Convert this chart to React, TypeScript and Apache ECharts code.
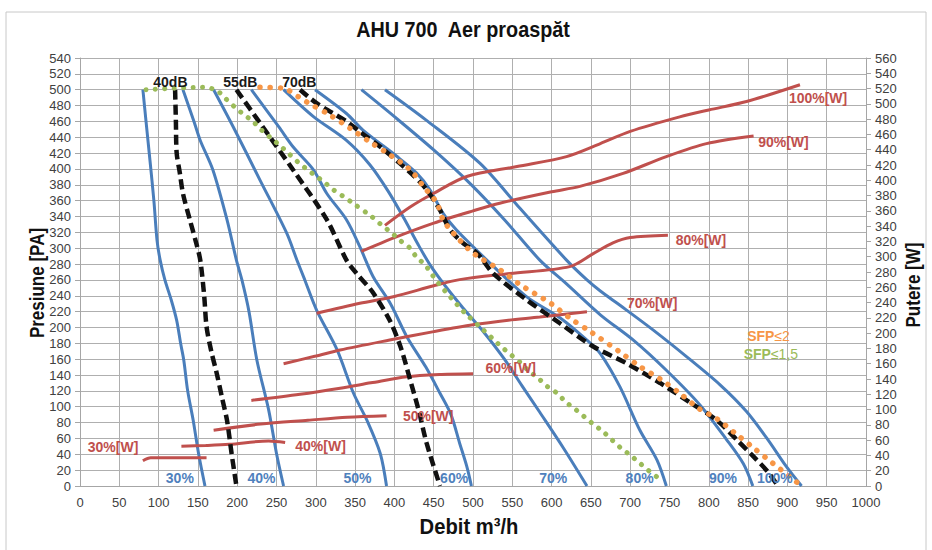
import React, { useEffect, useRef } from "react";
import * as echarts from "echarts";

// ---- Fan speed curves (Pa vs m3/h) ----
const speed30 = [[80,500],[84,460],[89,411],[94,360],[98,310],[102,285],[108,260],[116,235],[123,209],[128,180],[132,159],[137,120],[144,83],[151,40],[159,0]];
const speed40 = [[131,500],[145,460],[153,436],[169,399],[187,336],[199,285],[206,260],[215,220],[225,159],[240,96],[250,41],[259,0]];
const speed50 = [[170,500],[195,453],[229,386],[263,319],[276,285],[286,260],[301,222],[327,172],[348,117],[365,83],[382,41],[390,0]];
const speed60 = [[218,500],[253,453],[271,428],[297,399],[314,369],[339,336],[356,302],[373,264],[395,230],[416,188],[440,150],[458,117],[472,90],[483,54],[492,25],[498,0]];
const speed70 = [[259,500],[297,466],[339,436],[369,405],[392,372],[412,338],[430,305],[446,278],[465,252],[487,225],[513,195],[540,160],[562,127],[585,93],[615,48],[645,0]];
const speed80 = [[299,500],[339,470],[360,449],[403,416],[428,395],[445,374],[462,344],[479,323],[496,306],[526,277],[568,239],[611,212],[645,184],[662,167],[687,125],[712,71],[734,33],[746,0]];
const speed90 = [[358,500],[400,466],[450,424],[498,380],[540,336],[585,285],[619,255],[662,216],[704,184],[746,146],[789,102],[823,58],[844,28],[856,0]];
const speed100 = [[388,500],[440,462],[509,407],[560,350],[619,285],[645,260],[662,246],[687,228],[729,197],[772,163],[814,128],[848,94],[874,60],[899,24],[918,0]];

// ---- Sound level curves (Pa vs m3/h) ----
const db40 = [[121,500],[122,460],[123,420],[127,395],[131,369],[140,335],[148,306],[153,285],[158,240],[161,201],[167,170],[174,142],[181,110],[187,83],[193,40],[199,0]];
const db55 = [[199,500],[229,458],[271,399],[314,336],[339,285],[352,268],[372,245],[394,209],[408,175],[420,134],[431,95],[441,54],[458,0]];
const db70 = [[280,500],[301,483],[339,460],[356,447],[382,428],[407,407],[424,392],[441,374],[458,348],[471,323],[488,306],[505,294],[526,268],[568,235],[611,205],[653,176],[695,155],[738,130],[772,108],[810,83],[836,58],[857,37],[875,18],[888,0]];

// ---- SFP limit curves (Pa vs m3/h) ----
const sfp2 = [[229,503],[258,502],[278,491],[291,483],[318,468],[344,451],[369,434],[394,418],[420,399],[437,378],[454,357],[462,336],[475,319],[500,294],[534,273],[560,254],[598,231],[623,212],[649,195],[687,169],[712,151],[738,135],[763,117],[787,98],[810,85],[833,67],[857,48],[881,29],[918,0]];
const sfp15 = [[84,500],[157,503],[174,499],[185,489],[197,478],[208,469],[220,460],[231,449],[243,439],[255,429],[266,419],[277,409],[288,400],[299,392],[310,384],[322,374],[334,366],[347,357],[371,340],[384,329],[397,319],[407,310],[420,300],[428,289],[439,279],[447,268],[456,256],[467,243],[477,232],[488,220],[513,197],[526,185],[537,175],[549,165],[560,156],[570,146],[583,136],[594,126],[607,117],[618,106],[630,97],[642,87],[653,78],[665,69],[677,58],[688,48],[700,39],[712,29],[724,19],[736,10]];

// ---- Power curves (W vs m3/h) ----
const power30 = [[80,33],[90,37],[120,37],[161,37]];
const power40 = [[129,52],[160,53],[190,54.5],[240,59],[261,57]];
const power50 = [[170,73],[230,81],[290,86],[340,90],[390,92]];
const power60 = [[218,112],[280,120],[331,128],[370,135],[416,143],[460,146],[500,147]];
const power70 = [[259,160],[300,170],[331,178],[394,191],[450,202],[500,211],[545,217],[585,221],[645,228]];
const power80 = [[301,226],[356,239],[400,248],[450,262],[483,270],[547,278],[623,287],[653,304],[678,318],[700,325],[748,328]];
const power90 = [[358,307],[400,325],[450,344],[500,360],[534,370],[600,385],[636,392],[691,409],[746,431],[797,448],[857,458]];
const power100 = [[388,341],[420,365],[450,383],[492,405],[556,418],[619,431],[662,448],[700,464],[763,483],[800,492],[848,503],[916,525]];

// ---- Text labels (placed in flow / pressure coordinates) ----
const speedLabels: [string, number, number][] = [["30%",127,9.5],["40%",231,9.5],["50%",353,9.5],["60%",476,9.5],["70%",602,9.5],["80%",712,9.5],["90%",818,9.5],["100%",884,9.5]];
const dbLabels: [string, number, number][] = [["40dB",115,510],["55dB",204,510],["70dB",279,510]];
const powerLabels: [string, number, number][] = [["30%[W]",42,48.6],["40%[W]",306,50.5],["50%[W]",443,88],["60%[W]",548,148.5],["70%[W]",728,231],["80%[W]",790,310],["90%[W]",895,434],["100%[W]",939,489]];
const sfpLabels: [string, string, number, number, string][] = [["SFP","≤2",876,189.5,"#F79646"],["SFP","≤1,5",879,167,"#9BBB59"]];

const BLUE = "#4A7EBB";
const RED = "#C0504D";
const SANS = "'Liberation Sans', Arial, sans-serif";

export default function App() {
  const ref = useRef<HTMLDivElement>(null);
  useEffect(() => {
    if (!ref.current) return;
    const chart = echarts.init(ref.current, null, { renderer: "svg" });

    const line = (name: string, data: number[][], style: any, yAxisIndex = 0, z = 2) => ({
      name, type: "line", data, yAxisIndex, smooth: 0.3, showSymbol: false, symbol: "none", silent: true, z,
      lineStyle: style,
    });

    const blueStyle = { color: BLUE, width: 3 };
    const redStyle = { color: RED, width: 3 };
    const dashStyle = { color: "#111", width: 4.5, type: [10, 5] };

    const titleStyle = { fill: "#111", font: "bold 22px " + SANS, textAlign: "center", textVerticalAlign: "middle" };

    const option: any = {
      animation: false,
      backgroundColor: "#fff",
      grid: { left: 80, right: 66, top: 58, bottom: 64 },
      xAxis: {
        type: "value", min: 0, max: 1000, interval: 50,
        axisLine: { show: true, lineStyle: { color: "#A6A6A6", width: 1 } },
        axisTick: { show: false },
        axisLabel: { fontSize: 13, color: "#404040", margin: 10, fontFamily: SANS, formatter: (v: number) => String(v) },
        splitLine: { show: true, lineStyle: { color: "#AFAFAF", width: 1 } },
      },
      yAxis: [
        {
          type: "value", min: 0, max: 540, interval: 20, position: "left",
          axisLine: { show: true, lineStyle: { color: "#A6A6A6", width: 1 } },
          axisTick: { show: true, length: 5, lineStyle: { color: "#A6A6A6" } },
          axisLabel: { fontSize: 13, color: "#404040", margin: 9, fontFamily: SANS, formatter: (v: number) => String(v) },
          splitLine: { show: true, lineStyle: { color: "#AFAFAF", width: 1 } },
        },
        {
          type: "value", min: 0, max: 560, interval: 20, position: "right",
          axisLine: { show: true, lineStyle: { color: "#A6A6A6", width: 1 } },
          axisTick: { show: true, length: 5, lineStyle: { color: "#A6A6A6" } },
          axisLabel: { fontSize: 13, color: "#404040", margin: 9, fontFamily: SANS, formatter: (v: number) => String(v) },
          splitLine: { show: false },
        },
      ],
      series: [
        line("30%", speed30, blueStyle),
        line("40%", speed40, blueStyle),
        line("50%", speed50, blueStyle),
        line("60%", speed60, blueStyle),
        line("70%", speed70, blueStyle),
        line("80%", speed80, blueStyle),
        line("90%", speed90, blueStyle),
        line("100%", speed100, blueStyle),
        line("P30", power30, redStyle, 1, 3),
        line("P40", power40, redStyle, 1, 3),
        line("P50", power50, redStyle, 1, 3),
        line("P60", power60, redStyle, 1, 3),
        line("P70", power70, redStyle, 1, 3),
        line("P80", power80, redStyle, 1, 3),
        line("P90", power90, redStyle, 1, 3),
        line("P100", power100, redStyle, 1, 3),
        line("40dB", db40, dashStyle, 0, 4),
        line("55dB", db55, dashStyle, 0, 4),
        line("70dB", db70, dashStyle, 0, 4),
        line("SFP2", sfp2, { color: "#F79646", width: 5.5, type: [0.1, 10], cap: "round" }, 0, 5),
        line("SFP15", sfp15, { color: "#9BBB59", width: 5, type: [0.1, 9.3], cap: "round" }, 0, 5),
      ],
    };
    chart.setOption(option);

    // place text labels via the chart's own axis scales
    const px = (x: number, y: number) => chart.convertToPixel({ xAxisIndex: 0, yAxisIndex: 0 }, [x, y]) as number[];
    const lbl = (text: string, x: number, y: number, color: string) => {
      const [X, Y] = px(x, y);
      return { type: "text", x: X, y: Y, z: 100, silent: true,
        style: { text, fill: color, font: "bold 14px " + SANS, textAlign: "center", textVerticalAlign: "middle" } };
    };
    const graphics: any[] = [
      { type: "rect", shape: { x: 6, y: 12, width: 920, height: 560 }, style: { fill: "none", stroke: "#C8C8C8", lineWidth: 1 }, silent: true, z: -10 },
      { type: "text", x: 463, y: 29, scaleX: 0.9, style: { ...titleStyle, text: "AHU 700  Aer proaspăt" }, silent: true },
      { type: "text", x: 37, y: 283, rotation: Math.PI / 2, scaleX: 0.85, style: { ...titleStyle, font: "bold 20px " + SANS, text: "Presiune [PA]" }, silent: true },
      { type: "text", x: 913, y: 285, rotation: Math.PI / 2, scaleX: 0.85, style: { ...titleStyle, font: "bold 20px " + SANS, text: "Putere [W]" }, silent: true },
      { type: "text", x: 469, y: 526, scaleX: 0.92, style: { ...titleStyle, text: "Debit m³/h" }, silent: true },
      ...speedLabels.map(([n, x, y]) => lbl(n, x, y, "#4F81BD")),
      ...dbLabels.map(([n, x, y]) => lbl(n, x, y, "#1a1a1a")),
      ...powerLabels.map(([n, x, y]) => lbl(n, x, y, RED)),
      ...sfpLabels.map(([a, b, x, y, c]) => {
        const [X, Y] = px(x, y);
        return { type: "text", x: X, y: Y, z: 100, silent: true,
          style: { text: "{a|" + a + "}{b|" + b + "}", fill: c, textAlign: "center", textVerticalAlign: "middle",
            rich: { a: { fill: c, font: "bold 14px " + SANS }, b: { fill: c, font: "14px " + SANS } } } };
      }),
    ];
    chart.setOption({ graphic: graphics });
    return () => chart.dispose();
  }, []);
  return <div ref={ref} style={{ position: "fixed", left: 0, top: 0, width: 932, height: 550, background: "#fff" }} />;
}
